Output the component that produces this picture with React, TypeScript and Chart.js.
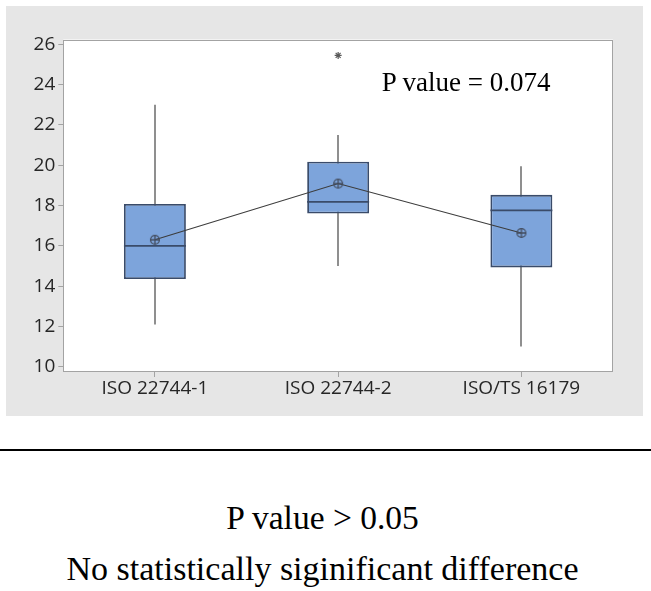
import React, { useEffect, useRef } from 'react';
import { Chart, registerables } from 'chart.js';

Chart.register(...registerables);

const categories = ['ISO 22744-1', 'ISO 22744-2', 'ISO/TS 16179'];
const q1Values = [14.35, 17.6, 14.93];
const q3Values = [18.08, 20.17, 18.53];
const medianValues = [16.0, 18.18, 17.76];
const whiskerLowValues = [12.1, 15.0, 11.0];
const whiskerHighValues = [23.0, 21.5, 19.95];
const meanValues = [16.3, 19.09, 16.64];
const outlierCategories = ['ISO 22744-2'];
const outlierValues = [25.45];
const yTickValues = [10, 12, 14, 16, 18, 20, 22, 24, 26];

const BOX_FILL = '#7DA4DB';
const BOX_EDGE = '#3A4B69';
const WHISKER = '#6A6A6A';
const TICK_FONT = { family: '"Open Sans", "Noto Sans", sans-serif', size: 19 };

function makeMeanSymbol(): HTMLCanvasElement {
  const c = document.createElement('canvas');
  c.width = 12;
  c.height = 12;
  const g = c.getContext('2d')!;
  g.strokeStyle = '#444E60';
  g.lineWidth = 1.3;
  g.beginPath();
  g.arc(6, 6, 4.4, 0, Math.PI * 2);
  g.stroke();
  g.beginPath();
  g.moveTo(6, 1.6);
  g.lineTo(6, 10.4);
  g.moveTo(1.6, 6);
  g.lineTo(10.4, 6);
  g.stroke();
  return c;
}

const boxPlotPlugin = {
  id: 'boxPlotParts',
  beforeDraw(chart: any) {
    const { ctx, chartArea } = chart;
    ctx.save();
    ctx.fillStyle = '#FFFFFF';
    ctx.fillRect(chartArea.left, chartArea.top, chartArea.right - chartArea.left, chartArea.bottom - chartArea.top);
    ctx.restore();
  },
  beforeDatasetsDraw(chart: any) {
    const { ctx, chartArea, scales } = chart;
    ctx.save();
    ctx.strokeStyle = '#A3A3A3';
    ctx.lineWidth = 1;
    const l = Math.round(chartArea.left) + 0.5;
    const t = Math.round(chartArea.top) + 0.5;
    const r = Math.round(chartArea.right) - 0.5;
    const b = Math.round(chartArea.bottom) - 0.5;
    ctx.strokeRect(l, t, r - l, b - t);
    ctx.strokeStyle = WHISKER;
    ctx.lineWidth = 1.5;
    categories.forEach((_, i) => {
      const x = Math.round(scales.x.getPixelForValue(i));
      ctx.beginPath();
      ctx.moveTo(x, scales.y.getPixelForValue(whiskerLowValues[i]));
      ctx.lineTo(x, scales.y.getPixelForValue(whiskerHighValues[i]));
      ctx.stroke();
    });
    ctx.restore();
  },
  afterDatasetDraw(chart: any, args: any) {
    if (args.meta.type !== 'bar') return;
    const { ctx, scales } = chart;
    ctx.save();
    ctx.strokeStyle = BOX_EDGE;
    ctx.lineWidth = 1.7;
    args.meta.data.forEach((bar: any, i: number) => {
      const half = bar.width / 2;
      const y = scales.y.getPixelForValue(medianValues[i]);
      ctx.beginPath();
      ctx.moveTo(bar.x - half, y);
      ctx.lineTo(bar.x + half, y);
      ctx.stroke();
    });
    ctx.restore();
  },
};

export default function App() {
  const canvasRef = useRef<HTMLCanvasElement | null>(null);

  useEffect(() => {
    const canvas = canvasRef.current;
    if (!canvas) return;
    const meanSymbol = makeMeanSymbol();
    const chart = new Chart(canvas, {
      type: 'bar',
      data: {
        labels: categories,
        datasets: [
          {
            type: 'line',
            data: outlierCategories.map((c, i) => ({ x: c, y: outlierValues[i] })) as any,
            showLine: false,
            pointStyle: 'star',
            pointRadius: 3.5,
            borderColor: '#5A5A5A',
            backgroundColor: '#5A5A5A',
            borderWidth: 1.2,
            order: 0,
          } as any,
          {
            type: 'line',
            data: meanValues,
            borderColor: '#3C3C3C',
            borderWidth: 1.1,
            pointStyle: meanSymbol as any,
            pointRadius: 5,
            tension: 0,
            order: 1,
          } as any,
          {
            type: 'bar',
            data: categories.map((_, i) => [q1Values[i], q3Values[i]]) as any,
            backgroundColor: BOX_FILL,
            borderColor: BOX_EDGE,
            borderWidth: 1.8,
            borderSkipped: false,
            barPercentage: 0.338,
            categoryPercentage: 1,
            order: 3,
          } as any,
        ],
      },
      options: {
        responsive: false,
        animation: false,
        events: [],
        devicePixelRatio: 1,
        layout: { padding: { top: 33.5, right: 30, bottom: 0, left: 0 } },
        plugins: {
          legend: { display: false },
          tooltip: { enabled: false },
          title: { display: false },
        },
        scales: {
          x: {
            type: 'category',
            offset: true,
            border: { display: false },
            grid: {
              display: true,
              offset: false,
              drawOnChartArea: false,
              drawTicks: true,
              tickLength: 5,
              color: '#A3A3A3',
            },
            ticks: { font: TICK_FONT, color: '#262626', padding: 0, maxRotation: 0, autoSkip: false },
            afterFit: (s: any) => {
              s.height = 44;
            },
          },
          y: {
            type: 'linear',
            min: 9.74,
            max: 26.24,
            border: { display: false },
            grid: {
              display: true,
              drawOnChartArea: false,
              drawTicks: true,
              tickLength: 5,
              color: '#A3A3A3',
            },
            ticks: { font: TICK_FONT, color: '#262626', padding: 3 },
            afterBuildTicks: (s: any) => {
              s.ticks = yTickValues.map((v) => ({ value: v }));
            },
            afterFit: (s: any) => {
              s.width = 57.3;
            },
          },
        },
      },
      plugins: [boxPlotPlugin],
    } as any);
    return () => chart.destroy();
  }, []);

  const serif = '"Liberation Serif", "Times New Roman", serif';
  return (
    <div style={{ position: 'absolute', left: 0, top: 0, width: 651, height: 591, overflow: 'hidden', background: '#FFFFFF' }}>
      <div style={{ position: 'absolute', left: 6, top: 6, width: 637, height: 410, background: '#E6E6E6' }}>
        <canvas ref={canvasRef} width={637} height={410} style={{ display: 'block', width: 637, height: 410 }} />
      </div>
      <div style={{ position: 'absolute', left: 381.7, top: 69.1, fontFamily: serif, fontSize: 27, lineHeight: '27px', color: '#000000', whiteSpace: 'nowrap' }}>
        P value = 0.074
      </div>
      <div style={{ position: 'absolute', left: 0, top: 449, width: 651, height: 2, background: '#000000' }} />
      <div style={{ position: 'absolute', left: 0, top: 500.5, width: 645, textAlign: 'center', fontFamily: serif, fontSize: 33.5, lineHeight: '33.5px', color: '#000000', whiteSpace: 'nowrap' }}>
        P value &gt; 0.05
      </div>
      <div style={{ position: 'absolute', left: 0, top: 552, width: 645, textAlign: 'center', fontFamily: serif, fontSize: 34, lineHeight: '34px', color: '#000000', whiteSpace: 'nowrap' }}>
        No statistically siginificant difference
      </div>
    </div>
  );
}
